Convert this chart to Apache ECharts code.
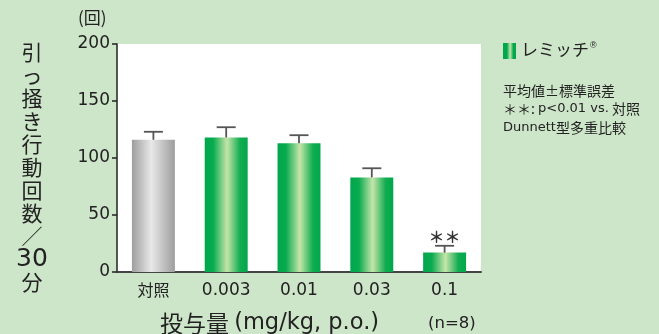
<!DOCTYPE html>
<html>
<head>
<meta charset="utf-8">
<script src="https://cdn.jsdelivr.net/npm/echarts@6/dist/echarts.min.js"></script>
<style>
  html, body { margin: 0; padding: 0; background: #cde5c8; }
  #chart { width: 659px; height: 334px; }
</style>
</head>
<body>
<div id="chart"></div>
<script>
// Doses (x categories), mean counts and standard errors
const categories = ['対照', '0.003', '0.01', '0.03', '0.1'];
const means = [116, 118, 113, 83, 17];
const errors = [7, 9, 7, 8, 6];
const significance = ['', '', '', '', '**'];
const yTicks = [0, 50, 100, 150, 200];

const FONT = '"DejaVu Sans", "Noto Sans CJK JP", sans-serif';
const FONT_JP = '"Noto Sans CJK JP", "Noto Sans", sans-serif';

const greenGrad = new echarts.graphic.LinearGradient(0, 0, 1, 0, [
  { offset: 0, color: '#00a74b' },
  { offset: 0.2, color: '#0aab50' },
  { offset: 0.52, color: '#c6e5aa' },
  { offset: 0.82, color: '#12ad52' },
  { offset: 1, color: '#00a74b' }
]);
const grayGrad = new echarts.graphic.LinearGradient(0, 0, 1, 0, [
  { offset: 0, color: '#9d9d9d' },
  { offset: 0.45, color: '#e8e8e8' },
  { offset: 1, color: '#9d9d9d' }
]);

const chart = echarts.init(document.getElementById('chart'));

chart.setOption({
  backgroundColor: '#cde5c8',
  animation: false,
  grid: { left: 117, right: 178, top: 44, bottom: 62, show: true, backgroundColor: '#ffffff', borderWidth: 0 },
  xAxis: {
    type: 'category',
    data: categories,
    axisLine: { lineStyle: { color: '#444', width: 2 } },
    axisTick: { inside: true, length: 4, alignWithLabel: false, lineStyle: { color: '#444', width: 1.5 } },
    axisLabel: {
      interval: 0,
      color: '#222', fontSize: 17, fontFamily: FONT, margin: 10,
      formatter: v => (v === categories[0] ? '{jp|' + v + '}' : v),
      rich: { jp: { fontFamily: FONT_JP, fontSize: 16, color: '#222' } }
    }
  },
  yAxis: {
    type: 'value',
    min: yTicks[0],
    max: yTicks[yTicks.length - 1],
    interval: 50,
    splitLine: { show: false },
    axisLine: { show: true, lineStyle: { color: '#222', width: 1.5 } },
    axisTick: { show: true, length: 5, lineStyle: { color: '#222', width: 1.5 } },
    axisLabel: { color: '#222', fontSize: 17, fontFamily: FONT, margin: 7 }
  },
  series: [
    {
      type: 'bar',
      barWidth: '59%',
      data: means.map((v, i) => ({
        value: v,
        itemStyle: { color: i === 0 ? grayGrad : greenGrad }
      })),
      z: 2
    },
    {
      type: 'custom',
      z: 3,
      data: means.map((v, i) => [i, v, errors[i]]),
      renderItem: function (params, api) {
        const i = api.value(0);
        const top = api.coord([i, api.value(1)]);
        const hi = api.coord([i, api.value(1) + api.value(2)]);
        const half = 9.5;
        const style = { stroke: '#555', lineWidth: 1.8 };
        const children = [
          { type: 'line', shape: { x1: top[0], y1: top[1], x2: hi[0], y2: hi[1] }, style: style },
          { type: 'line', shape: { x1: hi[0] - half, y1: hi[1], x2: hi[0] + half, y2: hi[1] }, style: style }
        ];
        const sig = significance[params.dataIndex];
        if (sig) {
          children.push({
            type: 'text',
            style: {
              text: '＊＊', x: hi[0], y: hi[1] - 1, align: 'center', verticalAlign: 'bottom',
              fill: '#333', font: 'bold 16px ' + FONT_JP
            }
          });
        }
        return { type: 'group', children: children };
      }
    }
  ],
  graphic: [
    {
      type: 'text', left: 78, top: 9,
      style: { text: '(回)', fill: '#222', font: '17px ' + FONT_JP }
    },
    {
      type: 'text',
      style: {
        x: 32, y: 41, align: 'center', verticalAlign: 'top',
        text: '引\nっ\n掻\nき\n行\n動\n回\n数\n／\n{n|30}\n分',
        fill: '#222', font: '21px ' + FONT_JP, lineHeight: 23,
        rich: { n: { fontFamily: FONT, fontSize: 25, fill: '#222', lineHeight: 23 } }
      }
    },
    {
      type: 'text',
      style: {
        x: 160, y: 323, verticalAlign: 'middle',
        text: '投与量 {l|(mg/kg, p.o.)}', fill: '#222', font: '23px ' + FONT_JP,
        rich: { l: { fontFamily: FONT, fontSize: 22.5, fill: '#222' } }
      }
    },
    {
      type: 'text',
      style: { x: 428, y: 324, verticalAlign: 'middle', text: '(n=8)', fill: '#222', font: '16.5px ' + FONT }
    },
    {
      type: 'rect', shape: { x: 503, y: 43, width: 13, height: 16 },
      style: {
        fill: new echarts.graphic.LinearGradient(0, 0, 1, 0, [
          { offset: 0, color: '#00a74b' },
          { offset: 0.3, color: '#00a74b' },
          { offset: 0.55, color: '#c6e5aa' },
          { offset: 0.8, color: '#00a74b' },
          { offset: 1, color: '#00a74b' }
        ])
      }
    },
    {
      type: 'text', left: 521, top: 41,
      style: {
        text: 'レミッチ{r|®}', fill: '#222', font: '17px ' + FONT_JP,
        rich: { r: { fontSize: 9, verticalAlign: 'top', fill: '#222', padding: [0, 0, 7, 1] } }
      }
    },
    {
      type: 'text', left: 503, top: 81,
      style: {
        text: '平均値±標準誤差\n＊＊: {d|p<0.01 vs.} 対照\n{d|Dunnett}型多重比較',
        fill: '#222', font: '14px ' + FONT_JP, lineHeight: 18.5,
        rich: { d: { fontFamily: FONT, fontSize: 13, fill: '#222', lineHeight: 18.5 } }
      }
    }
  ]
});
</script>
</body>
</html>
